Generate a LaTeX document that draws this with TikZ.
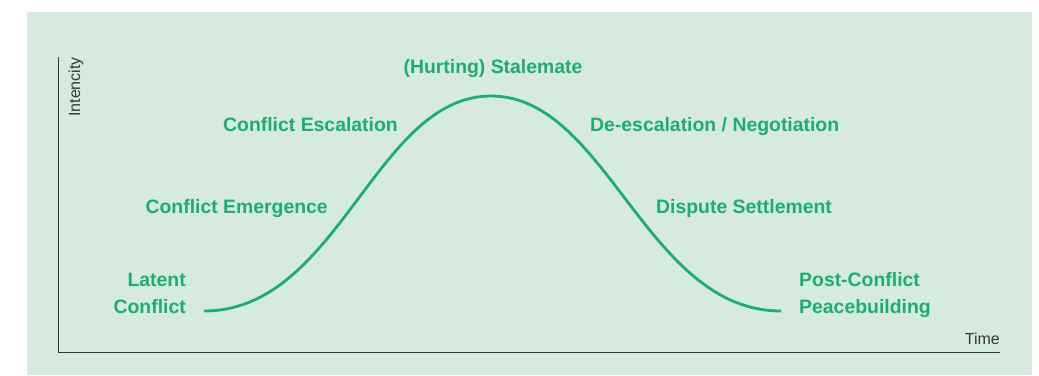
\documentclass[tikz,border=0pt]{standalone}
\usepackage{fontspec}
\setmainfont{Liberation Sans}
\usepackage{tikz}
\usetikzlibrary{positioning}
\definecolor{bgmint}{RGB}{214,235,222}
\definecolor{stagegreen}{RGB}{26,174,112}
\definecolor{axisgray}{RGB}{55,55,55}

\begin{document}
\begin{tikzpicture}[
    x=1pt, y=-1pt,
    stage/.style={inner sep=0pt, text=stagegreen, font=\fontsize{19.4}{26.5}\selectfont\bfseries},
    axislabel/.style={inner sep=0pt, text=axisgray, font=\fontsize{16}{18}\selectfont},
    axisline/.style={draw=axisgray, line width=1.1pt},
    curve/.style={draw=stagegreen, line width=2.8pt}
]
    \useasboundingbox (0,0) rectangle (1039,375);
    \fill[bgmint] (27,12) rectangle (1032,375);

    % axes
    \coordinate (ytop) at (58.5,57);
    \coordinate (origin) at (58.5,352.7);
    \coordinate (xend) at (1000,352.7);
    \draw[axisline] (ytop) -- (origin) -- (xend);
    \node[axislabel, rotate=90, anchor=base east] (intencity) at (80,57) {Intencity};
    \node[axislabel, anchor=base east] (time) at (1000,344) {Time};

    % conflict curve
    \coordinate (start) at (204,311);
    \coordinate (peak) at (491,96);
    \coordinate (end) at (781,311);
    \draw[curve] (start) .. controls (339,311) and (375,96) .. (peak)
                 .. controls (607,96) and (646,311) .. (end);

    % stages
    \node[stage, anchor=base east, align=right] (latent) at (186,313) {Latent\\Conflict};
    \node[stage, anchor=base east] (emergence) at (328,213) {Conflict Emergence};
    \node[stage, anchor=base east] (escalation) at (398,131) {Conflict Escalation};
    \node[stage, anchor=base] (stalemate) at (493,73) {(Hurting) Stalemate};
    \node[stage, anchor=base west] (deescalation) at (590,131) {De-escalation / Negotiation};
    \node[stage, anchor=base west] (settlement) at (656,213) {Dispute Settlement};
    \node[stage, anchor=base west, align=left] (postconflict) at (799,313) {Post-Conflict\\Peacebuilding};
\end{tikzpicture}
\end{document}
